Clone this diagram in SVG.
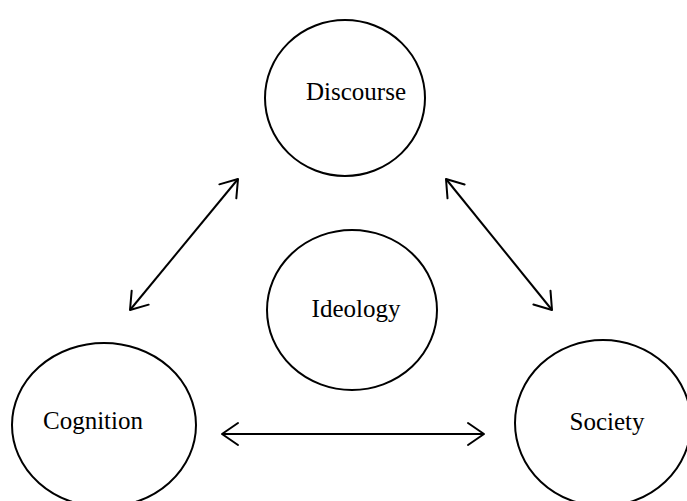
<svg xmlns="http://www.w3.org/2000/svg" width="687" height="501" viewBox="0 0 687 501">
  <style>
    .node { fill: #ffffff; stroke: #000000; stroke-width: 2; }
    .label { font-family: "Liberation Serif", "Times New Roman", serif; font-size: 25px; fill: #000000; text-anchor: middle; }
    .link { fill: none; stroke: #000000; stroke-width: 2; marker-start: url(#head); marker-end: url(#head); }
  </style>
  <defs>
    <!-- open V arrowhead, used at both ends of every link -->
    <marker id="head" viewBox="-20 -14 22 28" refX="0" refY="0" markerWidth="22" markerHeight="28" markerUnits="userSpaceOnUse" orient="auto-start-reverse">
      <path d="M -16 -11 L 0 0 L -16 11" fill="none" stroke="#000000" stroke-width="2" stroke-linecap="round" stroke-linejoin="round"/>
    </marker>
  </defs>
  <rect width="687" height="501" fill="#ffffff"/>

  <g id="connectors">
    <line class="link" x1="130" y1="310" x2="238" y2="179"/>
    <line class="link" x1="446" y1="179" x2="552" y2="310"/>
    <line class="link" x1="222" y1="434" x2="484" y2="434"/>
  </g>

  <g id="discourse">
    <ellipse class="node" cx="345" cy="98" rx="80" ry="78"/>
    <text class="label" x="356" y="100">Discourse</text>
  </g>

  <g id="ideology">
    <ellipse class="node" cx="352" cy="310" rx="85" ry="80"/>
    <text class="label" x="356" y="317">Ideology</text>
  </g>

  <g id="cognition">
    <ellipse class="node" cx="104" cy="425" rx="92" ry="82"/>
    <text class="label" x="93" y="429">Cognition</text>
  </g>

  <g id="society">
    <ellipse class="node" cx="603" cy="423" rx="88" ry="83"/>
    <text class="label" x="607" y="430">Society</text>
  </g>
</svg>
